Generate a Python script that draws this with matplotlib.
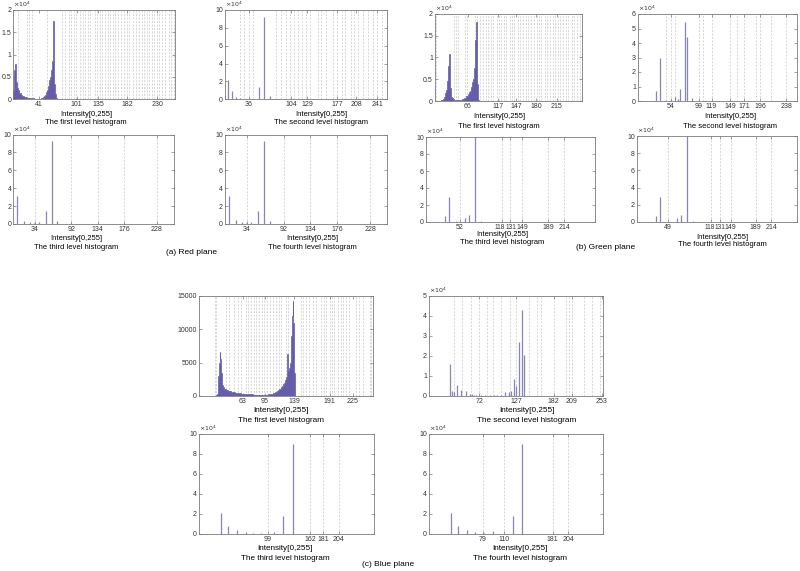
import matplotlib
matplotlib.use("Agg")
from matplotlib import pyplot as plt
from matplotlib import transforms
from matplotlib.ticker import FuncFormatter

W, H = 800, 571

# ---------------- data: red plane ----------------
r1_start = 0
r1_counts = [2000, 4500, 6500, 8000, 6000, 3800, 3000, 2500, 2100, 1800,
             1500, 1300, 1150, 1000, 900, 800, 720, 650, 600, 550,
             500, 460, 420, 390, 360, 330, 300, 280, 260, 240,
             220, 200, 190, 180, 170, 160, 150, 150, 140, 140,
             140, 150, 160, 170, 180, 220, 280, 350, 450, 600,
             800, 1000, 1300, 1600, 2000, 2500, 3000, 3600, 4300, 5000,
             5600, 6500, 8500, 12500, 17500, 9000, 3500, 1200, 500, 200,
             80, 30, 10]
r1_ticks = [41, 101, 135, 182, 230]
r1_lines = [8, 21, 25, 29, 53, 77, 83, 88, 92, 96, 100, 107, 111, 115, 119,
            123, 130, 134, 138, 142, 147, 151, 155, 159, 163, 167, 171, 177,
            181, 185, 191, 195, 200, 205, 209, 213, 217, 221, 225, 229, 233,
            237, 242, 248, 252, 256]

r2_bins = [3, 9, 15, 22, 28, 34, 42, 52, 61, 70]
r2_counts = [21500, 9000, 2500, 1000, 800, 500, 500, 13500, 92500, 3500]
r2_ticks = [36, 104, 129, 177, 208, 241]
r2_lines = [22, 29, 36, 43, 79, 88, 95, 102, 108, 115, 121, 127, 134, 146,
            152, 159, 171, 177, 185, 190, 200, 205, 211, 219, 226, 235, 241, 249]

r3_bins = [6, 17, 26, 33, 41, 52, 61, 70]
r3_counts = [31500, 3500, 2000, 1500, 2500, 14000, 93000, 3500]
r3_ticks = [34, 92, 134, 176, 228]

r4_bins = [6, 17, 26, 33, 41, 52, 61, 70]
r4_counts = [31500, 4000, 2500, 1500, 2500, 14000, 93000, 3500]
r4_ticks = [34, 92, 134, 176, 228]

# ---------------- data: green plane ----------------
g1_start = 20
g1_counts = [50, 80, 120, 200, 300, 450, 650, 900, 1300, 1800,
             2500, 3300, 4500, 6000, 8000, 10700, 6500, 3000, 1500, 900,
             650, 500, 400, 330, 280, 250, 220, 200, 190, 180,
             180, 190, 200, 220, 250, 280, 320, 370, 430, 500,
             580, 670, 780, 900, 1050, 1200, 1400, 1600, 1850, 2100,
             2400, 2800, 3200, 3700, 4300, 5000, 6000, 7500, 10000, 14000,
             18200, 12000, 4000, 1200, 300, 80, 20]
g1_ticks = [66, 117, 147, 180, 215]
g1_lines = [13, 42, 46, 50, 61, 64, 78, 82, 86, 92, 96, 100, 104, 108, 114,
            118, 122, 126, 130, 136, 140, 144, 150, 154, 158, 163, 167, 172,
            176, 181, 185, 189, 195, 199, 203, 208, 212, 217, 221, 226, 230,
            234, 240, 244, 248, 253]

g2_bins = [31, 37, 47, 54, 61, 65, 69, 76, 80, 88]
g2_counts = [7000, 29500, 1000, 1000, 3000, 1500, 8500, 54500, 44000, 2000]
g2_ticks = [54, 99, 119, 149, 171, 196, 238]
g2_lines = [47, 54, 61, 99, 106, 119, 149, 160, 171, 189, 196, 214, 238]

g3_bins = [30, 36, 46, 60, 67, 76, 86]
g3_counts = [7000, 29000, 1000, 4500, 8000, 100000, 1000]
g3_ticks = [52, 118, 131, 149, 189, 214]

g4_bins = [30, 36, 49, 63, 69, 79, 88]
g4_counts = [7000, 29000, 500, 4500, 8000, 100000, 1000]
g4_ticks = [49, 118, 131, 149, 189, 214]

# ---------------- data: blue plane ----------------
b1_start = 24
b1_counts = [100, 300, 1200, 3000, 5000, 6600, 5500, 3500, 2200, 1600,
             1300, 1150, 1050, 1000, 950, 900, 860, 820, 780, 750,
             720, 690, 660, 630, 600, 580, 560, 540, 520, 500,
             480, 460, 440, 420, 400, 390, 380, 370, 360, 350,
             340, 330, 320, 310, 300, 290, 280, 270, 260, 250,
             245, 240, 235, 230, 225, 220, 215, 210, 205, 200,
             200, 195, 190, 190, 185, 185, 180, 180, 180, 180,
             180, 185, 190, 195, 200, 210, 220, 230, 240, 260,
             280, 300, 330, 360, 400, 440, 490, 550, 620, 700,
             800, 900, 1000, 1100, 1100, 1250, 1400, 1550, 1700, 1850,
             2000, 2150, 2400, 2800, 3200, 6300, 3800, 3600, 4200, 5000,
             7000, 9000, 12000, 14300, 11000, 3500, 600, 50]
b1_ticks = [63, 95, 139, 191, 225]
b1_lines = [21, 23, 38, 43, 50, 55, 60, 67, 71, 75, 79, 82, 87, 91, 94, 98,
            103, 107, 111, 116, 119, 127, 130, 149, 152, 156, 161, 166, 171,
            178, 182, 186, 191, 194, 198, 203, 208, 211, 215, 220, 230, 235,
            240, 250, 252]

b2_bins = [29, 32, 35, 39, 45, 53, 58, 61, 65, 68, 75, 81, 88, 94, 99, 105,
           110, 116, 119, 123, 126, 131, 136, 139]
b2_counts = [15800, 2700, 2200, 5300, 3000, 2300, 1000, 800, 700, 500, 500,
             500, 500, 500, 700, 500, 1800, 2000, 2700, 8500, 5000, 27000,
             42800, 20700]
b2_ticks = [72, 127, 182, 209, 253]
b2_lines = [35, 47, 60, 72, 83, 92, 104, 117, 127, 146, 157, 164, 182, 200,
            205, 209, 227, 239, 250]

b3_bins = [30, 41, 54, 67, 78, 89, 109, 122, 136]
b3_counts = [21300, 8500, 4200, 2200, 1500, 1000, 2500, 18500, 90000]
b3_ticks = [99, 162, 181, 204]

b4_bins = [32, 42, 56, 68, 80, 94, 123, 137]
b4_counts = [21500, 8500, 4200, 2200, 1000, 3000, 18500, 90000]
b4_ticks = [79, 110, 181, 204]

HIST_COLOR = "#645daa"
STEM_COLOR = "#8785b3"
GRID_COLOR = "#c8c8c8"
FONT = ["Liberation Sans", "DejaVu Sans"]

plt.rcParams["font.family"] = FONT
fig = plt.figure(figsize=(W / 100, H / 100), dpi=100)


def make_axes(left, top, right, bottom):
    ax = fig.add_axes([left / W, 1 - bottom / H, (right - left) / W, (bottom - top) / H])
    for sp in ax.spines.values():
        sp.set_color("#7a7a7a")
        sp.set_linewidth(0.6)
    ax.tick_params(direction="in", length=2, width=0.5, colors="#7a7a7a",
                   labelcolor="#333333", labelsize=5, pad=1.5,
                   top=True, right=True)
    return ax


def finish(ax, xlim, ylim, yticks, ticks, lines, sci=True):
    for v in lines:
        ax.axvline(v, color=GRID_COLOR, lw=0.5, dashes=(3, 2), zorder=0)
    ax.set_xlim(*xlim)
    ax.set_ylim(*ylim)
    ax.set_xticks(ticks)
    ax.set_yticks(yticks)
    if sci:
        ax.yaxis.set_major_formatter(FuncFormatter(lambda v, p: "%g" % (v / 1e4)))
        ax.text(0, 1.01, r"$\times10^4$", transform=ax.transAxes,
                fontsize=4.5, color="#333333", va="bottom", ha="left")


def split_pair(ax, left_val, right_val):
    # the two close ticks: labels set side by side, left of the pair's middle
    ax.set_xticklabels(["" if t in (left_val, right_val) else str(t)
                        for t in ax.get_xticks().astype(int)])
    trans = transforms.blended_transform_factory(ax.transData, ax.transAxes)
    mid = (left_val + right_val) / 2 - 1.5
    ax.text(mid, -0.025, str(left_val), transform=trans, ha="right", va="top",
            fontsize=4.7, color="#333333")
    ax.text(mid, -0.025, str(right_val), transform=trans, ha="left", va="top",
            fontsize=4.7, color="#333333")


def labels(cx, y1, y2, title, size=5.5):
    fig.text(cx / W, 1 - y1 / H, "Intensity[0,255]", ha="center", va="center", fontsize=size)
    fig.text(cx / W, 1 - y2 / H, title, ha="center", va="center", fontsize=size)


def hist(ax, start, counts):
    edges = [start - 0.5 + i for i in range(len(counts) + 1)]
    ax.stairs(counts, edges, fill=True, facecolor=HIST_COLOR,
              edgecolor=HIST_COLOR, linewidth=0.5, zorder=2)


def stems(ax, bins, counts):
    ax.vlines(bins, 0, counts, color=STEM_COLOR, lw=0.9, zorder=2)


y10 = [0, 20000, 40000, 60000, 80000, 100000]

# red plane
ax = make_axes(13.4, 10, 175, 99.3)
hist(ax, r1_start, r1_counts)
finish(ax, (0, 258), (0, 20000), [0, 5000, 10000, 15000, 20000], r1_ticks, r1_lines)
labels(86, 114, 123, "The first level histogram")

ax = make_axes(225, 10, 387, 99.3)
stems(ax, r2_bins, r2_counts)
finish(ax, (-2, 257), (0, 100000), y10, r2_ticks, r2_lines)
labels(321, 114, 123, "The second level histogram")

ax = make_axes(13.4, 134.5, 173.5, 224)
stems(ax, r3_bins, r3_counts)
finish(ax, (0, 255), (0, 100000), y10, r3_ticks, r3_ticks)
labels(76, 239, 248, "The third level histogram")

ax = make_axes(225, 134.5, 387, 224)
stems(ax, r4_bins, r4_counts)
finish(ax, (0, 254), (0, 100000), y10, r4_ticks, r4_ticks)
labels(312, 239, 248, "The fourth level histogram")

fig.text(192 / W, 1 - 253 / H, "(a) Red plane", ha="center", va="center", fontsize=6)

# green plane
ax = make_axes(435, 14, 582, 101)
hist(ax, g1_start, g1_counts)
finish(ax, (11, 257), (0, 20000), [0, 5000, 10000, 15000, 20000], g1_ticks, g1_lines)
labels(499, 117, 126, "The first level histogram")

ax = make_axes(638, 14, 797, 101)
stems(ax, g2_bins, g2_counts)
finish(ax, (2, 255), (0, 60000), [0, 10000, 20000, 30000, 40000, 50000, 60000],
       g2_ticks, g2_lines)
labels(730, 117, 127, "The second level histogram")

ax = make_axes(426, 137, 595, 222)
stems(ax, g3_bins, g3_counts)
finish(ax, (0, 262), (0, 100000), y10, g3_ticks, g3_ticks)
split_pair(ax, 118, 131)
labels(502, 235, 242, "The third level histogram")

ax = make_axes(637, 136, 797, 222)
stems(ax, g4_bins, g4_counts)
finish(ax, (-1, 255), (0, 100000), y10, g4_ticks, g4_ticks)
split_pair(ax, 118, 131)
labels(722, 237, 244, "The fourth level histogram")

fig.text(606 / W, 1 - 248 / H, "(b) Green plane", ha="center", va="center", fontsize=6)

# blue plane
ax = make_axes(199, 296, 373, 396)
hist(ax, b1_start, b1_counts)
finish(ax, (-2, 255), (0, 15000), [0, 5000, 10000, 15000], b1_ticks, b1_lines, sci=False)
labels(281, 411, 421, "The first level histogram", 5.9)

ax = make_axes(429, 296, 603, 396)
stems(ax, b2_bins, b2_counts)
finish(ax, (-2, 255), (0, 50000), [0, 10000, 20000, 30000, 40000, 50000],
       b2_ticks, b2_lines)
labels(527, 411, 421, "The second level histogram", 5.9)

ax = make_axes(199, 434, 374, 534)
stems(ax, b3_bins, b3_counts)
finish(ax, (-2, 256), (0, 100000), y10, b3_ticks, b3_ticks)
labels(285, 549, 559, "The third level histogram", 5.9)

ax = make_axes(429, 434, 603, 534)
stems(ax, b4_bins, b4_counts)
finish(ax, (0, 255), (0, 100000), y10, b4_ticks, b4_ticks)
labels(520, 549, 559, "The fourth level histogram", 5.9)

fig.text(388 / W, 1 - 565 / H, "(c) Blue plane", ha="center", va="center", fontsize=6)

fig.savefig("out.png", dpi=100, facecolor="white")
